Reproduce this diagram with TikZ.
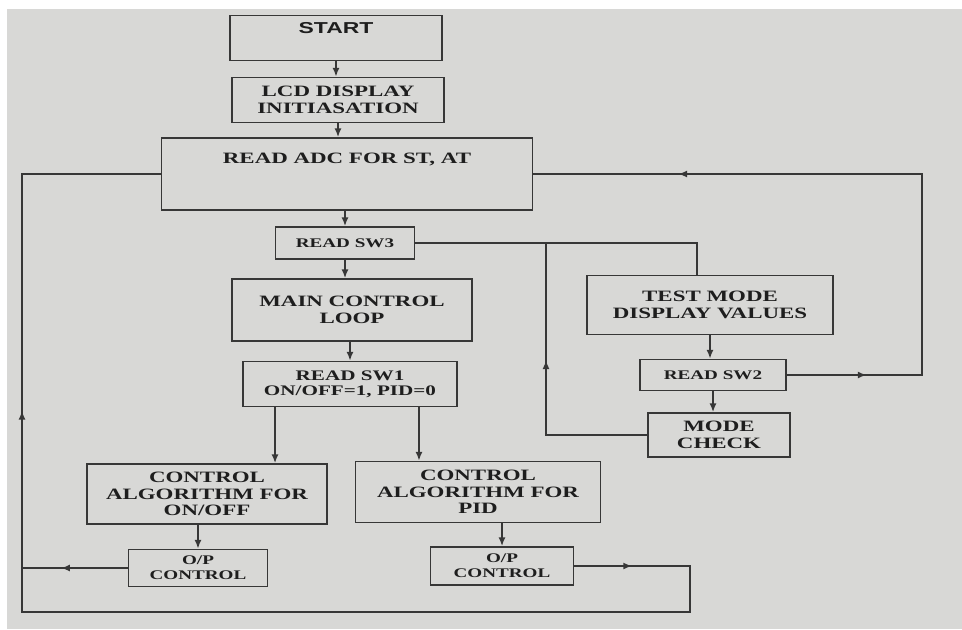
\documentclass[tikz,border=0pt]{standalone}
\usepackage{fontspec}
\usepackage{tikz}
\usetikzlibrary{arrows.meta, positioning, decorations.markings}
\newfontfamily\boxfont{Liberation Serif}[FakeStretch=1.45]
\newfontfamily\startfont{Liberation Sans}[FakeStretch=1.45]
\definecolor{paper}{RGB}{216,216,214}
\definecolor{ink}{RGB}{55,55,55}
\definecolor{txt}{RGB}{30,30,30}

\begin{document}
\begin{tikzpicture}[
  x=0.02cm, y=-0.02cm,
  box/.style={draw=ink, line width=1pt, inner sep=0pt, align=center, text=txt,
    font=\boxfont\bfseries\fontsize{9}{9.5}\selectfont},
  smallbox/.style={box, font=\boxfont\bfseries\fontsize{7.5}{8.5}\selectfont},
  midbox/.style={box, font=\boxfont\bfseries\fontsize{8.3}{8.5}\selectfont},
  line/.style={draw=ink, line width=0.9pt},
  arr/.style={line, -{Latex[length=5pt, width=4pt]}},
  midarr/.style={line, postaction={decorate}, decoration={markings,
    mark=at position #1 with {\arrow{Latex[length=5pt, width=4pt]}}}},
  twoarr/.style 2 args={line, postaction={decorate}, decoration={markings,
    mark=at position #1 with {\arrow{Latex[length=5pt, width=4pt]}},
    mark=at position #2 with {\arrow{Latex[length=5pt, width=4pt]}}}},
]
\useasboundingbox (0,0) rectangle (962,629);
\fill[white] (0,0) rectangle (962,629);
\fill[paper] (7,9) rectangle (962,629);

% Main column
\node[box, minimum width=4.24cm, minimum height=0.9cm, text height=0.2cm, text depth=0.38cm,
  font=\startfont\bfseries\fontsize{9}{9.5}\selectfont] (start) at (336,38) {START};
\node[box, minimum width=4.24cm, minimum height=0.9cm] (lcd) at (338,100) {LCD DISPLAY\\INITIASATION};
\node[box, minimum width=7.42cm, minimum height=1.44cm, text height=0.2cm, text depth=0.64cm] (adc) at (347,174) {READ ADC FOR ST, AT};
\node[smallbox, minimum width=2.78cm, minimum height=0.64cm] (sw3) at (345,243) {READ SW3};
\node[box, minimum width=4.8cm, minimum height=1.24cm] (main) at (352,310) {MAIN CONTROL\\LOOP};
\node[midbox, minimum width=4.28cm, minimum height=0.9cm] (sw1) at (350,384) {READ SW1\\ON/OFF=1, PID=0};

% Control branches
\node[box, minimum width=4.8cm, minimum height=1.2cm] (onoff) at (207,494) {CONTROL\\ALGORITHM FOR\\ON/OFF};
\node[box, minimum width=4.9cm, minimum height=1.22cm] (pid) at (478,492) {CONTROL\\ALGORITHM FOR\\PID};
\node[smallbox, minimum width=2.78cm, minimum height=0.74cm] (opl) at (198,568) {O/P\\CONTROL};
\node[smallbox, minimum width=2.86cm, minimum height=0.76cm] (opr) at (502,566) {O/P\\CONTROL};

% Test mode branch
\node[box, minimum width=4.92cm, minimum height=1.18cm] (test) at (710,305) {TEST MODE\\DISPLAY VALUES};
\node[smallbox, minimum width=2.92cm, minimum height=0.62cm] (sw2) at (713,375) {READ SW2};
\node[box, minimum width=2.84cm, minimum height=0.88cm] (mode) at (719,435) {MODE\\CHECK};

% Loop corners
\coordinate (rtop) at (922,174);
\coordinate (br) at (690,612);
\coordinate (bl) at (22,612);
\coordinate (mtop) at (546,243);

% Arrows
\draw[arr] (start.south) -- (start.south |- lcd.north);
\draw[arr] (lcd.south) -- (lcd.south |- adc.north);
\draw[arr] (sw3.north |- adc.south) -- (sw3.north);
\draw[arr] (sw3.south) -- (sw3.south |- main.north);
\draw[arr] (sw1.north |- main.south) -- (sw1.north);
\draw[arr] ([xshift=-1.5cm]sw1.south) -- ([xshift=-1.5cm]sw1.south |- onoff.north);
\draw[arr] ([xshift=1.38cm]sw1.south) -- ([xshift=1.38cm]sw1.south |- pid.north);
\draw[arr] (opl.north |- onoff.south) -- (opl.north);
\draw[arr] (opr.north |- pid.south) -- (opr.north);
\draw[arr] (test.south) -- (test.south |- sw2.north);
\draw[arr] (sw2.south) -- (sw2.south |- mode.north);

\draw[line] (sw3.east) -| ([xshift=-0.26cm]test.north);
\draw[midarr=0.6] (mode.west) -| (mtop);
\draw[twoarr={0.11}{0.8}] (sw2.east) -| (rtop) -- (adc.east);
\draw[twoarr={0.041}{0.733}] (opr.east) -| (br) -- (bl) |- (adc.west);
\draw[midarr=0.63] (opl.west) -- (opl.west -| bl);
\end{tikzpicture}
\end{document}
